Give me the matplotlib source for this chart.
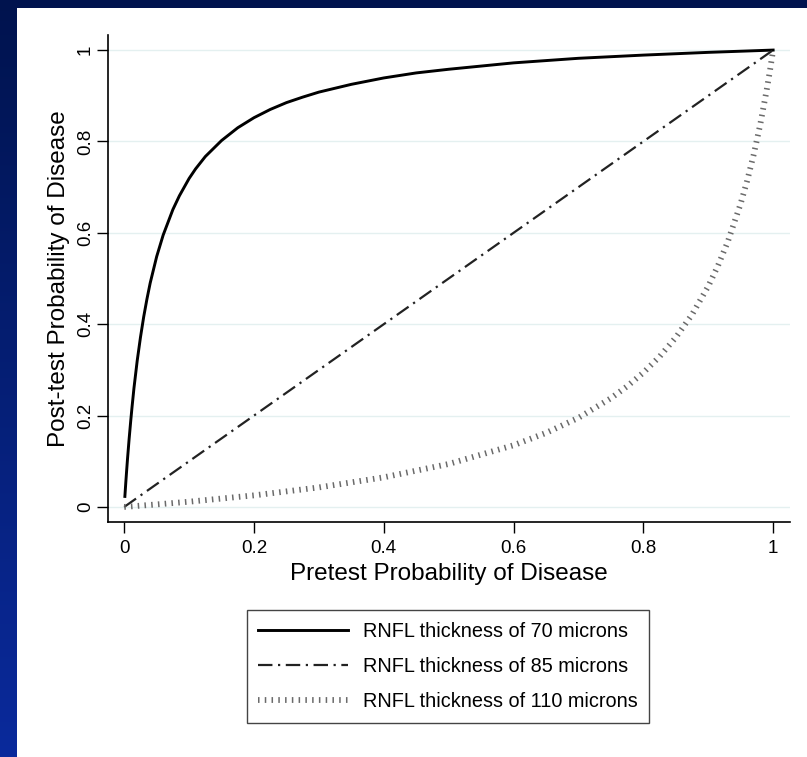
import numpy as np
import matplotlib.pyplot as plt
from matplotlib.colors import LinearSegmentedColormap

plt.rcParams['font.family'] = ['Liberation Sans', 'DejaVu Sans']

# values
pre_70 = [0.001, 0.0025, 0.0035, 0.005, 0.0075, 0.01, 0.012, 0.015, 0.02, 0.025,
          0.03, 0.035, 0.04, 0.05, 0.06, 0.075, 0.085, 0.1, 0.11, 0.125, 0.15,
          0.175, 0.2, 0.225, 0.25, 0.275, 0.3, 0.35, 0.4, 0.45, 0.5, 0.6, 0.7,
          0.8, 0.9, 1.0]
post_70 = [0.023, 0.055, 0.075, 0.104, 0.148, 0.188, 0.218, 0.26, 0.32, 0.371,
           0.416, 0.455, 0.49, 0.548, 0.595, 0.651, 0.681, 0.719, 0.74, 0.767,
           0.802, 0.83, 0.852, 0.87, 0.885, 0.897, 0.908, 0.925, 0.939, 0.95,
           0.958, 0.972, 0.982, 0.989, 0.995, 1.0]

pre_85 = [0.0, 1.0]
post_85 = [0.0, 1.0]

pre_110 = [0.0, 0.05, 0.1, 0.2, 0.3, 0.4, 0.5, 0.6, 0.65, 0.7, 0.75, 0.775, 0.8,
           0.825, 0.85, 0.875, 0.9, 0.915, 0.93, 0.95, 0.96, 0.97, 0.98, 0.99,
           0.995, 1.0]
post_110 = [0.0, 0.0055, 0.0114, 0.0253, 0.0427, 0.0648, 0.094, 0.135, 0.162,
            0.195, 0.238, 0.264, 0.294, 0.329, 0.371, 0.421, 0.483, 0.528, 0.58,
            0.664, 0.714, 0.771, 0.836, 0.912, 0.954, 1.0]

labels = ['RNFL thickness of 70 microns', 'RNFL thickness of 85 microns',
          'RNFL thickness of 110 microns']
ticks = [0, 0.2, 0.4, 0.6, 0.8, 1]
tick_labels = ['0', '0.2', '0.4', '0.6', '0.8', '1']

fig = plt.figure(figsize=(8.07, 7.57), dpi=100)
fig.patch.set_facecolor('white')

# blue slide border: top band and left gradient band
top = fig.add_axes([0, 1 - 8 / 757, 1, 8 / 757])
top.set_facecolor('#00134e')
top.set_xticks([]); top.set_yticks([])
for s in top.spines.values():
    s.set_visible(False)

left = fig.add_axes([0, 0, 17 / 807, 1])
cmap = LinearSegmentedColormap.from_list('slide', ['#00134e', '#0a2a9c'])
left.imshow(np.linspace(0, 1, 256).reshape(-1, 1), aspect='auto', cmap=cmap)
left.set_xticks([]); left.set_yticks([])
for s in left.spines.values():
    s.set_visible(False)

ax = fig.add_axes([108 / 807, 1 - 522 / 757, 682 / 807, 487 / 757])
ax.plot(pre_70, post_70, color='black', lw=2.1, label=labels[0],
        solid_joinstyle='round')
ax.plot(pre_85, post_85, color='#222222', lw=1.6,
        linestyle=(0, (6.5, 2.5, 1, 2.5)), label=labels[1])
ax.plot(pre_110, post_110, color='#6a6a6a', lw=4.2,
        linestyle=(0, (0.26, 0.9)), label=labels[2])

ax.set_xlim(-0.025, 1.026)
ax.set_ylim(-0.033, 1.033)
ax.set_xticks(ticks)
ax.set_xticklabels(tick_labels)
ax.set_yticks(ticks)
ax.set_yticklabels(tick_labels, rotation=90, va='center')
ax.tick_params(direction='out', length=8, width=1, labelsize=13.5)
ax.tick_params(axis='x', pad=5)
ax.tick_params(axis='y', pad=2)
ax.grid(axis='y', color='#e4f0f0', lw=1)
ax.set_axisbelow(True)
for s in ['top', 'right']:
    ax.spines[s].set_visible(False)
for s in ['left', 'bottom']:
    ax.spines[s].set_linewidth(1.2)

ax.set_xlabel('Pretest Probability of Disease', fontsize=17.5, labelpad=4)
ax.set_ylabel('Post-test Probability of Disease', fontsize=17.5, labelpad=5)

leg = fig.legend(loc='upper center', bbox_to_anchor=(448 / 807, 1 - 600 / 757),
                 fontsize=14.3, handlelength=4.5, labelspacing=0.8,
                 fancybox=False, edgecolor='#444444', framealpha=1,
                 borderpad=0.6, handletextpad=0.75)
leg.get_frame().set_linewidth(1.0)

fig.savefig('out.png', dpi=100)
